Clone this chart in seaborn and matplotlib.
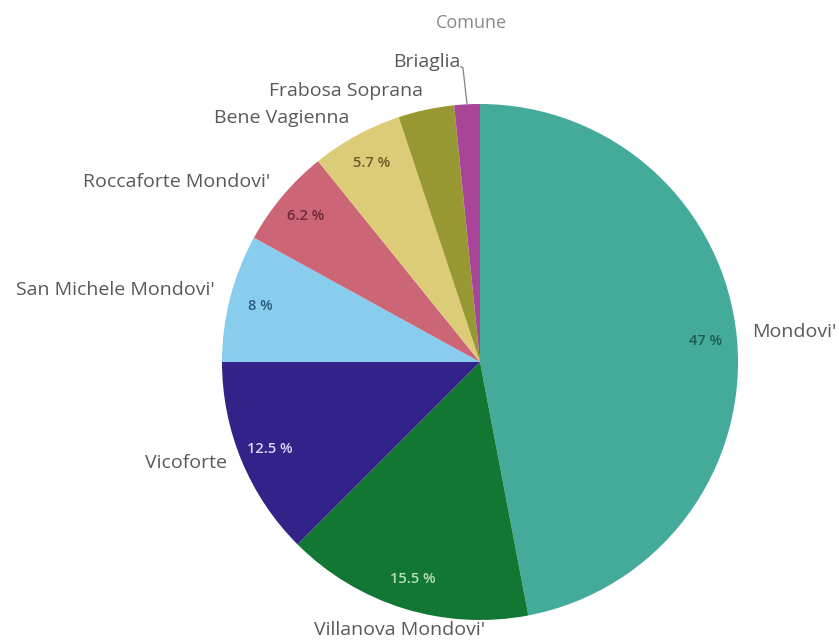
import numpy as np
import matplotlib
matplotlib.use("Agg")
import matplotlib.pyplot as plt
import seaborn as sns

# data
comuni = ["Mondovi'", "Villanova Mondovi'", "Vicoforte", "San Michele Mondovi'",
          "Roccaforte Mondovi'", "Bene Vagienna", "Frabosa Soprana", "Briaglia"]
quote = [47, 15.5, 12.5, 8, 6.2, 5.7, 3.5, 1.6]
show_pct = [True, True, True, True, True, True, False, False]

slice_colors = ["#44AA99", "#117733", "#332288", "#88CCEE",
                "#CC6677", "#DDCC77", "#999933", "#AA4499"]
pct_colors = ["#1d5a50", "#b5e0bb", "#dcd8f2", "#2b5c7c",
              "#6e2a36", "#6a5d26", "#333333", "#333333"]

sns.set_theme(style="white")
plt.rcParams["font.family"] = ["Open Sans", "DejaVu Sans"]

fig = plt.figure(figsize=(8.39, 6.42), dpi=100)
# pie centred at (480, 362) px with a 258 px radius
ax = fig.add_axes([222 / 839, 22 / 642, 516 / 839, 516 / 642])

palette = sns.color_palette(slice_colors)
wedges, _ = ax.pie(quote, colors=palette, startangle=90, counterclock=False,
                   radius=1, wedgeprops=dict(linewidth=0))
ax.set_xlim(-1, 1)
ax.set_ylim(-1, 1)
ax.set_aspect("equal")

label_color = "#595959"
for w, name, q, show, pc in zip(wedges, comuni, quote, show_pct, pct_colors):
    mid = np.deg2rad((w.theta1 + w.theta2) / 2)
    cx, cy = np.cos(mid), np.sin(mid)
    if show:
        ax.text(0.88 * cx, 0.88 * cy, f"{q:g} %", ha="center", va="center",
                fontsize=10.5, color=pc, fontweight="semibold")
    if name == "Briaglia":
        # leader line from the thin slice up to its label
        ax.plot([cx, -0.066, -0.075], [cy, 1.14, 1.145], color="#808080",
                lw=0.9, clip_on=False)
        ax.text(-0.075, 1.163, name, ha="right", va="center", fontsize=14,
                color=label_color)
        continue
    r = 1.06
    x, y = r * cx, r * cy
    if name == "Villanova Mondovi'":
        ax.text(x, y + 0.01, name, ha="center", va="top", fontsize=14,
                color=label_color)
    else:
        ha = "left" if x > 0 else "right"
        ax.text(x, y + 0.015, name, ha=ha, va="center", fontsize=14,
                color=label_color)

ax.text(-0.035, 1.314, "Comune", ha="center", va="center", fontsize=13,
        color="#8a8a8a")
ax.axis("off")

fig.savefig("out.png", dpi=100)
